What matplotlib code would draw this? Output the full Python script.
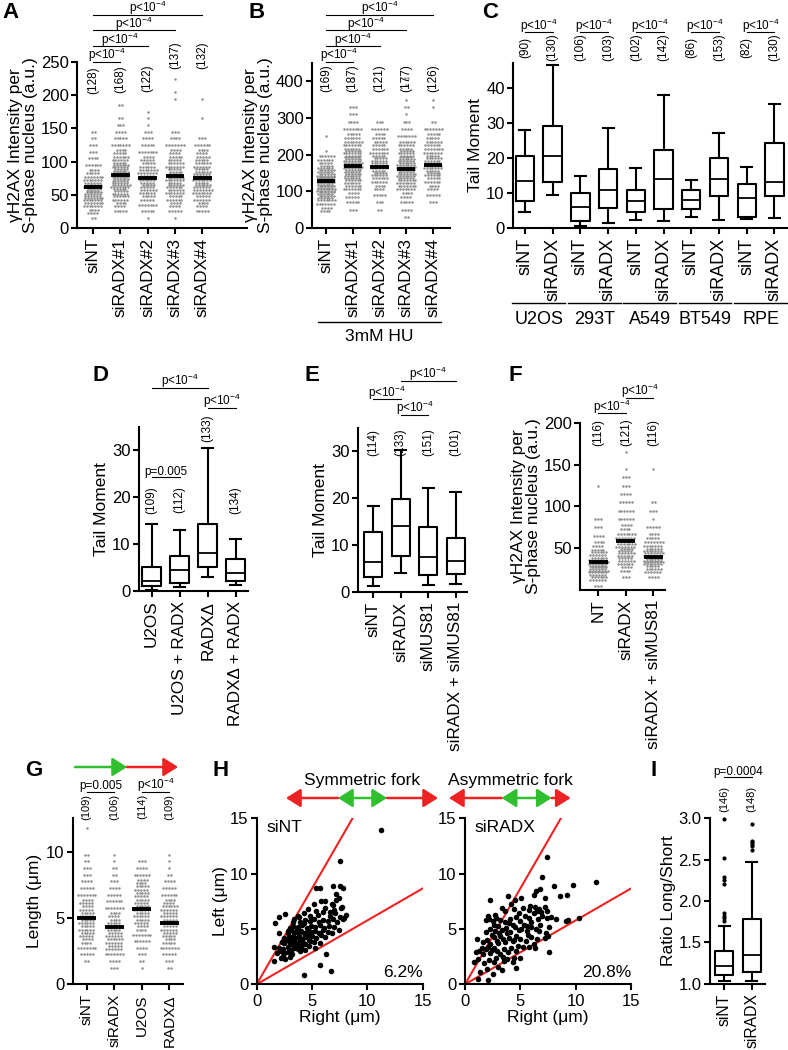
import numpy as np
import matplotlib.pyplot as plt
from matplotlib.transforms import blended_transform_factory
from matplotlib.patches import FancyArrowPatch

plt.rcParams['font.family'] = ['Liberation Sans', 'DejaVu Sans']
plt.rcParams['mathtext.default'] = 'regular'
plt.rcParams['axes.linewidth'] = 1.5

W, H = 788, 1050
P4 = 'p<10$^{-4}$'
GRAY = '#8f8f8f'
RED = '#ee2222'
GREEN = '#2fbf2f'

# ---------------- data ----------------
# A: gammaH2AX dot counts per 10 a.u. bin (starting at 0)
a_labels = ['siNT', 'siRADX#1', 'siRADX#2', 'siRADX#3', 'siRADX#4']
a_n = ['(128)', '(168)', '(122)', '(137)', '(132)']
a_means = [62, 80, 76, 78, 76]
a_sint = [0, 2, 8, 14, 20, 22, 19, 14, 9, 6, 4, 3, 3, 2, 2]
a_rad1 = [0, 0, 5, 8, 12, 16, 20, 24, 22, 17, 12, 9, 7, 5, 4, 3, 2, 0, 2]
a_rad2 = [0, 1, 5, 7, 10, 12, 15, 16, 14, 11, 9, 7, 5, 4, 3, 1, 1, 1]
a_rad3 = [0, 1, 5, 8, 11, 13, 17, 19, 15, 13, 10, 8, 7, 4, 3, 0, 0, 0, 0, 1, 1, 0, 1]
a_rad4 = [0, 0, 5, 8, 11, 14, 17, 19, 17, 12, 10, 8, 6, 3, 0, 0, 1, 0, 0, 1]

# B: 3mM HU, counts per 20 a.u. bin
b_n = ['(169)', '(187)', '(121)', '(177)', '(126)']
b_means = [127, 168, 165, 162, 172]
b_sint = [0, 0, 8, 14, 24, 32, 36, 25, 16, 12, 1, 0, 1]
b_rad1 = [0, 0, 3, 5, 9, 13, 18, 24, 28, 25, 19, 14, 11, 7, 4, 3, 3, 0, 0, 0, 1]
b_rad2 = [0, 0, 2, 3, 5, 8, 12, 16, 18, 16, 13, 10, 9, 6, 3]
b_rad3 = [0, 2, 4, 5, 8, 14, 20, 26, 27, 22, 16, 12, 7, 4, 3, 1, 2, 1, 0, 1, 2]
b_rad4 = [0, 0, 0, 3, 5, 8, 11, 16, 19, 17, 14, 12, 10, 7, 2, 0, 1, 1]

# C: tail moment boxes
c_labels = ['siNT', 'siRADX'] * 5
c_groups = ['U2OS', '293T', 'A549', 'BT549', 'RPE']
c_n = ['(90)', '(130)', '(106)', '(103)', '(102)', '(142)', '(86)', '(153)', '(82)', '(130)']
c_lo = [4.6, 9.5, 0.5, 1.5, 2.3, 1.9, 3.1, 2.2, 2.5, 2.9]
c_q1 = [7.7, 13.1, 2.0, 5.7, 4.5, 5.4, 5.3, 9.0, 3.2, 9.1]
c_med = [13.3, 20.5, 6.0, 10.7, 7.6, 14.0, 7.9, 13.9, 8.6, 13.1]
c_q3 = [20.6, 29.0, 10.1, 16.9, 10.8, 22.3, 10.8, 19.8, 12.6, 24.2]
c_hi = [27.9, 46.3, 14.9, 28.6, 17.1, 37.9, 13.6, 27.1, 17.4, 35.2]

# D
d_labels = ['U2OS', 'U2OS + RADX', 'RADX\u0394', 'RADX\u0394 + RADX']
d_n = ['(109)', '(112)', '(133)', '(134)']
d_lo = [0.2, 0.9, 3.0, 1.2]
d_q1 = [1.1, 1.8, 5.2, 2.1]
d_med = [2.1, 4.5, 8.2, 3.8]
d_q3 = [5.2, 7.4, 14.3, 6.9]
d_hi = [14.3, 13.1, 30.5, 11.1]

# E
e_labels = ['siNT', 'siRADX', 'siMUS81', 'siRADX + siMUS81']
e_n = ['(114)', '(133)', '(151)', '(101)']
e_lo = [1.3, 4.1, 1.4, 1.7]
e_q1 = [3.3, 7.6, 3.7, 3.9]
e_med = [6.5, 14.0, 7.5, 6.7]
e_q3 = [12.9, 19.8, 13.8, 11.6]
e_hi = [18.3, 30.4, 22.1, 21.4]

# F: counts per 10 a.u. bin
f_labels = ['NT', 'siRADX', 'siRADX + siMUS81']
f_n = ['(116)', '(121)', '(116)']
f_means = [33, 59, 39]
f_nt = [3, 18, 32, 27, 17, 8, 4, 3, 3, 0, 0, 0, 1]
f_rad = [0, 3, 8, 17, 22, 20, 14, 8, 6, 6, 5, 4, 3, 3, 1, 0, 1]
f_radmus = [0, 4, 17, 33, 27, 14, 9, 5, 1, 3, 2, 0, 0, 0, 1]

# G: fork length, counts per 0.5 um bin
g_labels = ['siNT', 'siRADX', 'U2OS', 'RADX\u0394']
g_n = ['(109)', '(106)', '(114)', '(109)']
g_means = [5.0, 4.3, 5.7, 4.65]
g_sint = [0, 0, 0, 2, 5, 7, 8, 10, 11, 11, 10, 9, 9, 7, 5, 4, 3, 3, 2, 2, 0, 0, 0, 1]
g_rad = [0, 0, 3, 4, 7, 11, 12, 11, 10, 9, 8, 7, 6, 5, 4, 3, 2, 2, 1, 1]
g_u2os = [0, 0, 1, 2, 3, 4, 6, 7, 8, 10, 11, 11, 10, 10, 10, 8, 6, 4, 3]
g_delta = [0, 0, 2, 3, 5, 7, 9, 10, 11, 11, 11, 12, 8, 6, 5, 4, 2, 1, 1, 1]

# H: (right, left) fork lengths
h_sint = [
    (1.6, 2.1), (1.8, 2.8), (2.2, 2.4), (2.4, 2.6), (2.6, 2.3), (2.8, 2.9), (3.0, 2.5), (2.2, 3.0), (2.5, 2.8), (3.2, 2.7),
    (1.6, 3.4), (2.0, 3.3), (2.4, 3.2), (2.8, 3.4), (3.1, 3.1), (3.4, 3.3), (3.7, 3.2), (4.0, 3.4), (4.4, 3.1), (4.7, 3.5),
    (3.9, 3.0), (5.3, 3.3), (2.3, 3.8), (2.5, 3.7), (2.9, 3.9), (3.2, 3.6), (3.5, 3.8), (3.8, 3.7), (4.1, 3.9), (4.4, 3.6),
    (4.8, 3.9), (5.2, 3.8), (5.7, 3.7), (3.0, 3.6), (3.6, 3.5), (4.2, 3.7), (2.5, 4.2), (2.6, 4.1), (2.9, 4.3), (3.2, 4.0),
    (3.5, 4.2), (3.8, 4.4), (4.1, 4.1), (4.4, 4.3), (4.7, 4.0), (5.0, 4.4), (5.4, 4.2), (5.8, 4.5), (6.2, 4.3), (3.3, 4.4),
    (3.9, 4.0), (4.6, 4.5), (2.8, 4.0), (2.05, 4.6), (2.8, 4.8), (2.8, 4.6), (3.1, 4.9), (3.4, 4.7), (3.7, 4.6), (4.0, 4.8),
    (4.3, 4.6), (4.6, 4.9), (4.9, 4.7), (5.3, 4.8), (5.6, 4.6), (6.0, 4.9), (6.4, 4.7), (6.8, 4.6), (3.6, 5.0), (3.0, 5.0),
    (3.0, 5.1), (3.3, 5.3), (3.7, 5.2), (4.1, 5.4), (4.5, 5.1), (4.9, 5.3), (5.3, 5.2), (5.7, 5.4), (6.1, 5.1), (6.5, 5.3),
    (7.0, 5.2), (7.4, 4.9), (4.3, 5.5), (1.66, 5.5), (3.3, 5.6), (3.4, 5.9), (3.9, 5.6), (4.4, 5.8), (4.8, 5.7), (5.2, 5.9),
    (5.6, 5.6), (6.0, 5.8), (6.4, 5.7), (6.9, 5.9), (7.3, 5.6), (7.8, 5.9), (8.1, 6.3), (2.0, 6.1), (2.56, 6.36), (3.7, 6.2),
    (4.3, 6.4), (4.8, 6.2), (5.5, 6.3), (6.0, 6.5), (6.6, 6.2), (7.1, 6.4), (7.5, 6.1), (7.9, 6.0), (3.8, 6.1), (4.6, 6.8),
    (5.4, 6.6), (6.2, 6.9), (7.0, 6.7), (7.6, 6.9), (6.6, 6.5), (5.2, 7.3), (5.8, 7.5), (6.2, 7.5), (6.8, 7.3), (7.2, 7.6),
    (7.4, 7.8), (6.9, 7.2), (7.7, 7.0), (5.4, 8.7), (5.7, 8.7), (6.9, 8.9), (7.5, 8.9), (7.8, 8.7), (7.2, 8.2), (7.5, 11.1),
    (11.2, 13.9), (4.3, 0.8), (5.7, 1.7), (6.7, 1.2), (6.3, 2.7),
]
h_siradx = [
    (1.2, 0.5), (2.1, 0.4), (2.5, 0.9), (1.4, 1.1), (2.0, 1.4), (3.0, 1.6), (3.3, 1.3), (0.8, 2.0), (1.7, 1.9), (1.2, 2.3),
    (2.2, 2.2), (2.6, 2.0), (3.5, 2.1), (4.3, 2.0), (4.6, 1.5), (4.4, 2.4), (1.0, 2.9), (2.8, 2.4), (3.8, 2.3), (5.0, 2.4),
    (1.3, 3.0), (1.6, 2.7), (1.9, 3.2), (2.3, 2.8), (2.6, 3.3), (2.9, 3.0), (3.2, 2.7), (3.5, 3.2), (3.9, 2.9), (4.2, 3.3),
    (4.6, 3.0), (5.2, 3.4), (5.8, 3.4), (2.1, 3.4), (7.6, 2.9), (6.3, 3.3), (1.1, 4.1), (1.6, 3.8), (2.0, 4.0), (2.3, 3.6),
    (2.6, 4.3), (2.9, 3.9), (3.2, 4.4), (3.6, 3.8), (4.0, 4.2), (4.3, 3.9), (4.6, 4.4), (5.0, 4.1), (5.5, 3.9), (6.0, 4.3),
    (6.5, 4.1), (7.2, 4.2), (7.5, 4.4), (2.4, 4.5), (3.4, 4.1), (4.4, 4.0), (5.7, 4.5), (6.2, 3.6), (1.9, 4.7), (2.3, 5.0),
    (2.7, 4.8), (3.0, 5.3), (3.3, 4.9), (3.7, 5.1), (4.1, 4.7), (4.5, 5.2), (4.9, 4.9), (5.3, 5.4), (5.6, 4.8), (6.0, 5.2),
    (6.4, 5.0), (6.8, 5.4), (7.3, 4.6), (7.6, 5.2), (3.1, 4.6), (4.3, 5.4), (5.1, 5.0), (1.9, 5.8), (2.2, 5.9), (2.5, 5.7),
    (2.8, 6.0), (3.2, 5.8), (3.6, 5.6), (2.1, 6.2), (2.7, 6.3), (4.1, 5.9), (4.6, 6.1), (5.0, 5.7), (5.4, 6.2), (5.8, 6.0),
    (6.2, 6.4), (6.6, 5.9), (7.0, 6.2), (7.4, 6.0), (7.8, 6.1), (8.2, 5.9), (4.9, 6.4), (6.0, 5.6), (9.1, 5.7), (9.3, 5.8),
    (10.3, 6.0), (6.9, 6.5), (3.6, 6.6), (4.4, 6.8), (5.2, 6.9), (5.8, 6.7), (6.3, 7.0), (6.7, 6.8), (7.2, 7.0), (5.9, 7.1),
    (4.2, 7.3), (3.3, 6.9), (6.5, 6.6), (7.4, 6.6), (2.3, 7.6), (3.9, 8.0), (4.5, 7.6), (6.2, 8.1), (6.4, 8.4), (6.8, 8.6),
    (8.0, 8.9), (8.6, 8.0), (9.2, 8.1), (9.8, 9.0), (11.8, 9.2), (7.2, 7.8), (5.1, 7.8), (7.0, 9.7), (7.4, 11.5),
    (2.4, 3.1), (3.0, 3.7), (3.8, 4.6), (4.8, 3.5), (2.6, 5.4), (1.5, 3.3), (3.4, 2.5), (4.0, 5.5), (5.6, 5.3), (6.7, 4.8),
]
h_pct = ['6.2%', '20.8%']
h_names = ['siNT', 'siRADX']

# I: ratio long/short
i_labels = ['siNT', 'siRADX']
i_n = ['(146)', '(148)']
i_lo = [1.03, 1.03]
i_q1 = [1.10, 1.14]
i_med = [1.22, 1.35]
i_q3 = [1.40, 1.78]
i_hi = [1.70, 2.47]
i_out_sint = [2.99, 2.52, 2.29, 2.25, 2.21, 1.85, 1.82, 1.79, 1.76]
i_out_siradx = [2.93, 2.73, 2.71, 2.69, 2.66, 2.62]

# ---------------- helpers ----------------
fig = plt.figure(figsize=(W / 100, H / 100), dpi=100)
TICK = 12
LAB = 12.5


def fy(ypx):
    return 1 - ypx / H


def make_ax(l, t, r, b, xlim, ylim):
    ax = fig.add_axes([l / W, 1 - b / H, (r - l) / W, (b - t) / H])
    ax.spines[['top', 'right']].set_visible(False)
    ax.tick_params(width=1.5, length=4, labelsize=TICK, pad=2)
    ax.tick_params(axis='x', length=4, pad=3)
    ax.set_xlim(*xlim)
    ax.set_ylim(*ylim)
    ax.patch.set_alpha(0)
    return ax


def set_cats(ax, labels, size=12.3):
    ax.set_xticks(range(len(labels)))
    ax.set_xticklabels(labels, rotation=90, fontsize=size)


def ylab(ax, text, pad=2):
    ax.set_ylabel(text, fontsize=LAB, linespacing=1.0, labelpad=pad)


def bracket(ax, x1, x2, ypx, label):
    tr = blended_transform_factory(ax.transData, fig.transFigure)
    ax.plot([x1, x2], [fy(ypx)] * 2, transform=tr, color='k', lw=0.8, clip_on=False)
    ax.text((x1 + x2) / 2, fy(ypx - 2.5), label, transform=tr, ha='center',
            va='baseline', fontsize=8.5)


def counts_text(ax, labels, ypxs, size=8.5):
    tr = blended_transform_factory(ax.transData, fig.transFigure)
    for i, (lab, yp) in enumerate(zip(labels, ypxs)):
        ax.text(i, fy(yp), lab, transform=tr, rotation=90, ha='center', va='center', fontsize=size)


def strip(ax, groups, binw, means, maxcols=7, dx=0.105):
    xs, ys = [], []
    for x0, counts in enumerate(groups):
        for i, c in enumerate(counts):
            if c == 0:
                continue
            nrows = int(np.ceil(c / maxcols))
            for r, idx in enumerate(np.array_split(np.arange(c), nrows)):
                k = len(idx)
                y = (i + (r + 0.5) / nrows) * binw
                shift = (r % 2 - 0.5) * dx * 0.5 if nrows > 1 else 0
                xs.extend(x0 + shift + (np.arange(k) - (k - 1) / 2) * dx)
                ys.extend([y] * k)
        ax.plot([x0 - 0.34, x0 + 0.34], [means[x0]] * 2, color='k', lw=2.8,
                solid_capstyle='butt', zorder=4)
    ax.scatter(xs, ys, s=3.2, color=GRAY, lw=0, zorder=3, clip_on=False)


def boxes(ax, lo, q1, med, q3, hi, fliers=None, width=0.66):
    stats = []
    for i in range(len(med)):
        stats.append(dict(whislo=lo[i], q1=q1[i], med=med[i], q3=q3[i], whishi=hi[i],
                          fliers=fliers[i] if fliers else []))
    lw = 1.5
    ax.bxp(stats, positions=range(len(med)), widths=width, capwidths=width * 0.6,
           showfliers=bool(fliers), manage_ticks=False,
           boxprops=dict(lw=lw), whiskerprops=dict(lw=lw), capprops=dict(lw=lw),
           medianprops=dict(color='k', lw=1.3),
           flierprops=dict(marker='o', markersize=2, markerfacecolor='k', markeredgecolor='k'))


def arrow(x1, x2, ypx, color, style='-|>'):
    fig.add_artist(FancyArrowPatch((x1 / W, fy(ypx)), (x2 / W, fy(ypx)),
                                   transform=fig.transFigure, color=color, lw=1.8,
                                   arrowstyle=style + ',head_length=0.55,head_width=0.35',
                                   mutation_scale=16, shrinkA=0, shrinkB=0))


def letter(xpx, ypx, s):
    fig.text(xpx / W, fy(ypx), s, fontsize=16, fontweight='bold', ha='left', va='center')


# ---------------- A ----------------
ax = make_ax(77, 62, 247, 228, (-0.59, 5.64), (0, 250))
strip(ax, [a_sint, a_rad1, a_rad2, a_rad3, a_rad4], 10, a_means)
ax.set_yticks([0, 50, 100, 150, 200, 250])
set_cats(ax, a_labels)
ylab(ax, '\u03b3H2AX Intensity per\nS-phase nucleus (a.u.)')
counts_text(ax, a_n, [80, 79, 78, 55, 55])
for j, yp in zip(range(1, 5), [62, 46.2, 30.4, 14.8]):
    bracket(ax, 0, j, yp, P4)

# ---------------- B ----------------
ax = make_ax(312, 63, 450, 228, (-0.52, 4.63), (0, 450))
strip(ax, [b_sint, b_rad1, b_rad2, b_rad3, b_rad4], 20, b_means)
ax.set_yticks([0, 100, 200, 300, 400])
set_cats(ax, a_labels)
ylab(ax, '\u03b3H2AX Intensity per\nS-phase nucleus (a.u.)')
counts_text(ax, b_n, [78] * 5)
for j, yp in zip(range(1, 5), [62, 46.2, 30.4, 14.8]):
    bracket(ax, 0, j, yp, P4)
tr = blended_transform_factory(ax.transData, fig.transFigure)
ax.plot([-0.3, 4.3], [fy(322)] * 2, transform=tr, color='k', lw=1, clip_on=False)
ax.text(2, fy(336), '3mM HU', transform=tr, ha='center', va='center', fontsize=LAB)

# ---------------- C ----------------
ax = make_ax(513, 63, 788, 228, (-0.43, 9.49), (0, 47))
boxes(ax, c_lo, c_q1, c_med, c_q3, c_hi)
ax.set_yticks([0, 10, 20, 30, 40])
set_cats(ax, c_labels, 13)
ylab(ax, 'Tail Moment')
counts_text(ax, c_n, [47] * 10)
tr = blended_transform_factory(ax.transData, fig.transFigure)
for k, g in enumerate(c_groups):
    bracket(ax, 2 * k, 2 * k + 1, 32.3, P4)
    ax.plot([2 * k - 0.45, 2 * k + 1.45], [fy(303)] * 2, transform=tr, color='k', lw=1, clip_on=False)
    ax.text(2 * k + 0.5, fy(320), g, transform=tr, ha='center', va='center', fontsize=13)

# ---------------- D ----------------
ax = make_ax(139, 427, 248, 591, (-0.45, 3.44), (0, 35))
boxes(ax, d_lo, d_q1, d_med, d_q3, d_hi)
ax.set_yticks([0, 10, 20, 30])
set_cats(ax, d_labels)
ylab(ax, 'Tail Moment')
counts_text(ax, d_n, [500, 500, 428, 500])
bracket(ax, 0, 2, 387.7, P4)
bracket(ax, 2, 3, 408, P4)
bracket(ax, 0, 1, 477, 'p=0.005')

# ---------------- E ----------------
ax = make_ax(358, 428, 467, 592, (-0.55, 3.41), (0, 35))
boxes(ax, e_lo, e_q1, e_med, e_q3, e_hi)
ax.set_yticks([0, 10, 20, 30])
set_cats(ax, e_labels)
ylab(ax, 'Tail Moment')
counts_text(ax, e_n, [442] * 4)
bracket(ax, 0, 1, 399.3, P4)
bracket(ax, 1, 2, 415, P4)
bracket(ax, 1, 3, 381, P4)

# ---------------- F ----------------
ax = make_ax(580, 423, 665, 590, (-0.67, 2.43), (0, 200))
strip(ax, [f_nt, f_rad, f_radmus], 10, f_means)
ax.set_yticks([50, 100, 150, 200])
set_cats(ax, f_labels)
ylab(ax, '\u03b3H2AX Intensity per\nS-phase nucleus (a.u.)')
counts_text(ax, f_n, [432] * 3)
bracket(ax, 0, 1, 413.3, P4)
bracket(ax, 1, 2, 397.7, P4)

# ---------------- G ----------------
ax = make_ax(72.7, 818.3, 183.3, 984.3, (-0.51, 3.51), (0, 12.5))
strip(ax, [g_sint, g_rad, g_u2os, g_delta], 0.5, g_means)
ax.set_yticks([0, 5, 10])
set_cats(ax, g_labels, 11)
ylab(ax, 'Length (\u03bcm)', pad=3)
counts_text(ax, g_n, [806.5] * 4, size=8)
bracket(ax, 0, 1, 791.7, 'p=0.005')
bracket(ax, 2, 3, 791.7, P4)
arrow(75, 127, 767, GREEN)
arrow(127, 178, 767, RED)

# ---------------- H ----------------
for k, (l, r, pts) in enumerate([(256.7, 422.7, h_sint), (465, 631, h_siradx)]):
    ax = make_ax(l, 818.3, r, 984.3, (0, 15), (0, 15))
    pts = np.array(pts)
    ax.scatter(pts[:, 0], pts[:, 1], s=16, color='k', lw=0, zorder=3, clip_on=False)
    ax.axline((0, 0), slope=np.tan(np.radians(60)), color=RED, lw=1.5, zorder=2)
    ax.axline((0, 0), slope=np.tan(np.radians(30)), color=RED, lw=1.5, zorder=2)
    ax.set_xticks([0, 5, 10, 15])
    ax.set_yticks([0, 5, 10, 15])
    ax.set_xlabel('Right (\u03bcm)', fontsize=LAB, labelpad=1)
    if k == 0:
        ylab(ax, 'Left (\u03bcm)', pad=1)
    ax.text(0.85, 14.2, h_names[k], fontsize=LAB, ha='left', va='center')
    ax.text(15, 1.1, h_pct[k], fontsize=LAB, ha='right', va='center')
fig.text(361.7 / W, fy(781), 'Symmetric fork', fontsize=LAB, ha='center', va='center')
fig.text(510 / W, fy(780), 'Asymmetric fork', fontsize=LAB, ha='center', va='center')
arrow(338, 286, 798, RED)
arrow(338, 387, 798, GREEN, '<|-|>')
arrow(387, 438, 798, RED)
arrow(501.7, 449, 798, RED)
arrow(501.7, 551.7, 798, GREEN, '<|-|>')
arrow(551.7, 570.7, 798, RED)

# ---------------- I ----------------
ax = make_ax(710, 818.3, 765, 983.7, (-0.51, 1.48), (1.0, 3.0))
boxes(ax, i_lo, i_q1, i_med, i_q3, i_hi, fliers=[i_out_sint, i_out_siradx])
ax.set_yticks([1.0, 1.5, 2.0, 2.5, 3.0])
ax.set_yticklabels(['1.0', '1.5', '2.0', '2.5', '3.0'])
set_cats(ax, i_labels, 11.3)
ylab(ax, 'Ratio Long/Short')
counts_text(ax, i_n, [799, 799], size=8)
bracket(ax, 0, 1, 777.3, 'p=0.0004')
for a in ax.lines:
    a.set_clip_on(False)

# ---------------- panel letters ----------------
for s, x, y in [('A', 2, 13), ('B', 249, 13), ('C', 482, 13), ('D', 92, 375), ('E', 305, 375),
                ('F', 508, 375), ('G', 25, 771), ('H', 213, 771), ('I', 650, 771)]:
    letter(x, y, s)

fig.savefig('out.png', dpi=100)
